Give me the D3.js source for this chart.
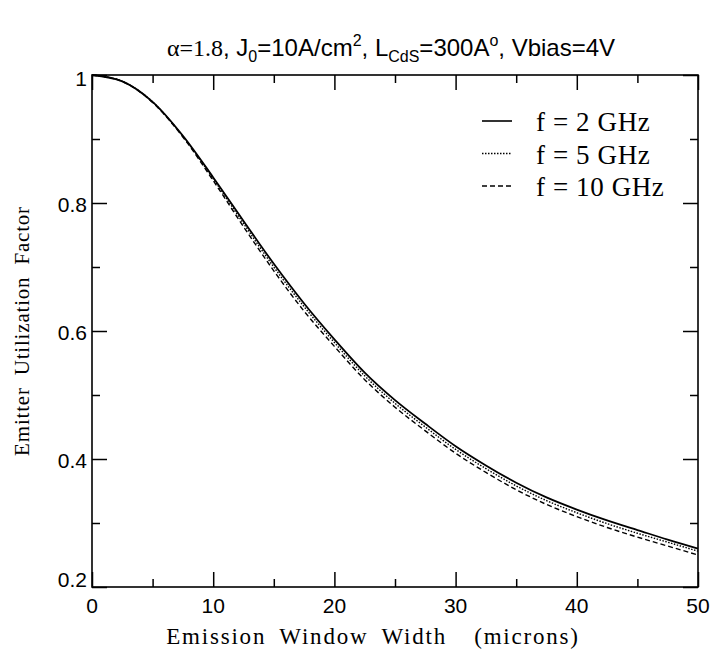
<!DOCTYPE html>
<html>
<head>
<meta charset="utf-8">
<script src="https://cdn.jsdelivr.net/npm/d3@7"></script>
<style>
  body { margin: 0; background: #fff; }
  .tick-label { font-family: "Liberation Sans", Arial, sans-serif; font-size: 21px; }
  .serif { font-family: "Liberation Serif", "Times New Roman", serif; }
</style>
</head>
<body>
<svg width="713" height="652"></svg>
<script>
// emission window width (microns)
var widths = [0, 2.5, 5, 7.5, 10, 12.5, 15, 17.5, 20, 22.5, 25, 27.5, 30, 32.5, 35, 37.5, 40, 42.5, 45, 47.5, 50];

// emitter utilization factor
var f2GHz  = [1.000, 0.990, 0.958, 0.905, 0.840, 0.772, 0.705, 0.643, 0.587, 0.535, 0.492, 0.455, 0.420, 0.390, 0.363, 0.340, 0.321, 0.304, 0.289, 0.274, 0.260];
var f5GHz  = [1.000, 0.990, 0.958, 0.904, 0.838, 0.768, 0.700, 0.638, 0.582, 0.530, 0.487, 0.450, 0.415, 0.385, 0.358, 0.335, 0.316, 0.299, 0.284, 0.270, 0.256];
var f10GHz = [1.000, 0.990, 0.957, 0.903, 0.835, 0.763, 0.694, 0.631, 0.576, 0.524, 0.481, 0.444, 0.409, 0.379, 0.352, 0.329, 0.310, 0.293, 0.278, 0.264, 0.250];

var seriesNames = ["f = 2 GHz", "f = 5 GHz", "f = 10 GHz"];
var xTicks = [0, 10, 20, 30, 40, 50];
var yTicks = [0.2, 0.4, 0.6, 0.8, 1];

var svg = d3.select("svg"),
    margin = {top: 75, right: 15, bottom: 65, left: 92},
    width = 713 - margin.left - margin.right,
    height = 652 - margin.top - margin.bottom,
    g = svg.append("g").attr("transform", "translate(" + margin.left + "," + margin.top + ")");

var x = d3.scaleLinear().domain([0, 50]).range([0, width]);
var y = d3.scaleLinear().domain([0.2, 1]).range([height, 0]);

// title
var title = svg.append("text")
    .attr("x", 391).attr("y", 56)
    .attr("text-anchor", "middle")
    .style("font-family", "Liberation Sans, Arial, sans-serif")
    .style("font-size", "24px");
title.append("tspan").style("font-family", "Liberation Serif, serif").text("\u03b1=1.8");
title.append("tspan").text(", J");
title.append("tspan").attr("dy", 6).style("font-size", "16px").text("0");
title.append("tspan").attr("dy", -6).text("=10A/cm");
title.append("tspan").attr("dy", -10).style("font-size", "16px").text("2");
title.append("tspan").attr("dy", 10).text(", L");
title.append("tspan").attr("dy", 6).style("font-size", "16px").text("CdS");
title.append("tspan").attr("dy", -6).text("=300A");
title.append("tspan").attr("dy", -10).style("font-size", "16px").text("o");
title.append("tspan").attr("dy", 10).text(", Vbias=4V");

// ticks on all four sides, pointing inward
function ticks(axis, scale, vals, len) {
  return axis(scale).tickValues(vals).tickSize(len).tickFormat("");
}
var xMinor = d3.range(5, 50, 10), yMinor = [0.3, 0.5, 0.7, 0.9];

g.append("g").attr("transform", "translate(0," + height + ")").call(ticks(d3.axisTop, x, xTicks, 15));
g.append("g").attr("transform", "translate(0," + height + ")").call(ticks(d3.axisTop, x, xMinor, 8));
g.append("g").call(ticks(d3.axisBottom, x, xTicks, 15));
g.append("g").call(ticks(d3.axisBottom, x, xMinor, 8));
g.append("g").call(ticks(d3.axisRight, y, yTicks, 15));
g.append("g").call(ticks(d3.axisRight, y, yMinor, 8));
g.append("g").attr("transform", "translate(" + width + ",0)").call(ticks(d3.axisLeft, y, yTicks, 15));
g.append("g").attr("transform", "translate(" + width + ",0)").call(ticks(d3.axisLeft, y, yMinor, 8));
g.selectAll(".domain").remove();
g.selectAll(".tick line").attr("stroke", "#000").attr("stroke-width", 1.5);

g.append("rect")
    .attr("width", width).attr("height", height)
    .attr("fill", "none").attr("stroke", "#000").attr("stroke-width", 1.6);

// tick labels
g.selectAll(".xl").data(xTicks).enter().append("text")
    .attr("class", "tick-label")
    .attr("x", function(d) { return x(d); })
    .attr("y", height + 26)
    .attr("text-anchor", "middle")
    .text(function(d) { return d; });

g.selectAll(".yl").data(yTicks).enter().append("text")
    .attr("class", "tick-label")
    .attr("x", -5)
    .attr("y", function(d) { return y(d) + (d == 0.2 ? 0 : d == 1 ? 11 : 9); })
    .attr("text-anchor", "end")
    .text(function(d) { return d; });

// axis titles
svg.append("text").attr("class", "serif")
    .attr("x", 373).attr("y", 644)
    .attr("text-anchor", "middle")
    .style("font-size", "23px").style("letter-spacing", "1.8px").style("word-spacing", "6px")
    .text("Emission Window Width \u00a0(microns)");

svg.append("text").attr("class", "serif")
    .attr("transform", "translate(29,331) rotate(-90)")
    .attr("text-anchor", "middle")
    .style("font-size", "21px").style("letter-spacing", "0.8px").style("word-spacing", "6px")
    .text("Emitter Utilization Factor");

// curves
var dashes = [null, "1.5,1.5", "5,3"];
var series = [f2GHz, f5GHz, f10GHz];
var line = d3.line()
    .x(function(d, i) { return x(widths[i]); })
    .y(function(d) { return y(d); })
    .curve(d3.curveMonotoneX);

g.selectAll(".curve").data(series).enter().append("path")
    .attr("class", "curve")
    .attr("d", line)
    .attr("fill", "none")
    .attr("stroke", "#000")
    .attr("stroke-width", function(d, i) { return i == 0 ? 1.8 : 1.4; })
    .attr("stroke-dasharray", function(d, i) { return dashes[i]; });

// legend
var legend = g.selectAll(".legend").data(seriesNames).enter().append("g")
    .attr("transform", function(d, i) { return "translate(390," + (46 + i * 32.5) + ")"; });
legend.append("line")
    .attr("x1", 0).attr("x2", 30)
    .attr("stroke", "#000")
    .attr("stroke-width", function(d, i) { return i == 0 ? 1.6 : 1.3; })
    .attr("stroke-dasharray", function(d, i) { return dashes[i]; });
legend.append("text").attr("class", "serif")
    .attr("x", 54).attr("y", 10)
    .style("font-size", "27px").style("letter-spacing", "0.6px")
    .text(function(d) { return d; });
</script>
</body>
</html>
